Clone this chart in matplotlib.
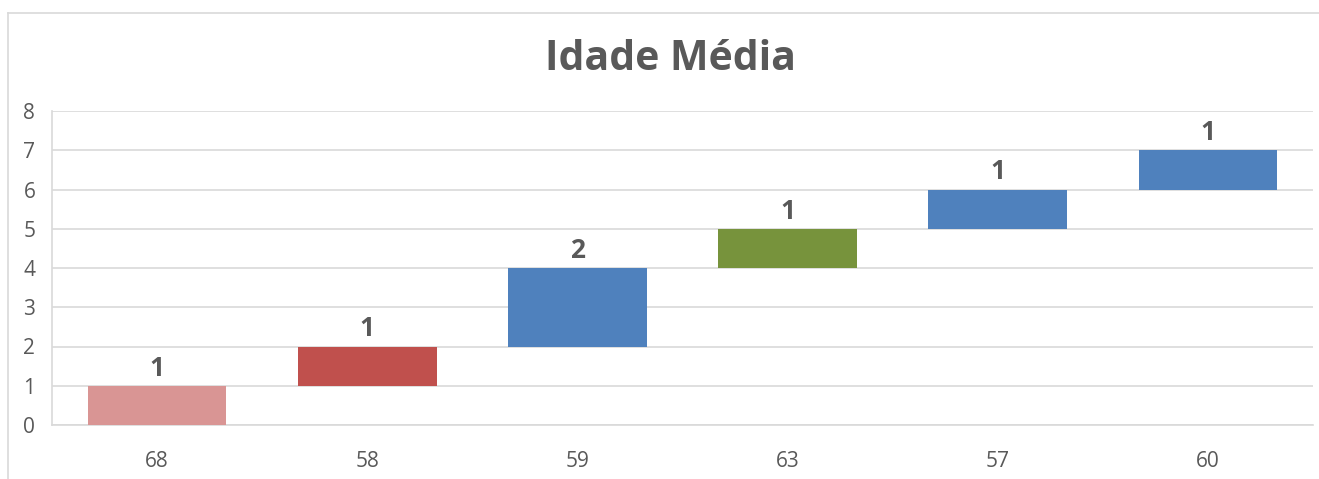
import matplotlib.pyplot as plt
from matplotlib.lines import Line2D

categorias = ["68", "58", "59", "63", "57", "60"]
valores = [1, 1, 2, 1, 1, 1]
cores = ["#D99594", "#C0504D", "#4F81BD", "#77933C", "#4F81BD", "#4F81BD"]

# base de cada barra (cascata)
bases = []
acum = 0
for v in valores:
    bases.append(acum)
    acum += v

plt.rcParams["font.family"] = ["Open Sans", "DejaVu Sans"]
cinza = "#595959"

fig = plt.figure(figsize=(13.19, 4.79), dpi=100)
ax = fig.add_axes([52 / 1319, 1 - 425 / 479, (1313 - 52) / 1319, (425 - 111) / 479])

x = range(len(categorias))
barras = ax.bar(x, valores, bottom=bases, width=0.66, color=cores, zorder=3)
for i, b in enumerate(barras):
    ax.annotate(str(valores[i]), (b.get_x() + b.get_width() / 2, bases[i] + valores[i]),
                xytext=(0, 3), textcoords="offset points", ha="center", va="bottom",
                fontsize=19, fontweight="bold", color=cinza)

ax.set_xlim(-0.5, len(categorias) - 0.5)
ax.set_ylim(0, 8)
ax.set_yticks(range(0, 9))
ax.set_xticks(list(x))
ax.set_xticklabels(categorias)
ax.grid(axis="y", color="#D9D9D9", linewidth=1.2, zorder=0)
for s in ["top", "right"]:
    ax.spines[s].set_visible(False)
ax.spines["left"].set_color("#D9D9D9")
ax.spines["bottom"].set_color("#D9D9D9")
ax.spines["left"].set_linewidth(1.2)
ax.spines["bottom"].set_linewidth(1.2)
ax.tick_params(axis="both", length=0, labelsize=15, labelcolor=cinza)
ax.tick_params(axis="y", pad=12)
ax.tick_params(axis="x", pad=19)

fig.text(0.508, 1 - 60 / 479, "Idade Média", ha="center", va="center",
         fontsize=29.5, fontweight="bold", color=cinza)

# moldura do gráfico (só topo e esquerda visíveis)
fig.add_artist(Line2D([8 / 1319, 8 / 1319], [0, 1 - 13 / 479], transform=fig.transFigure,
                      color="#D9D9D9", linewidth=1.2))
fig.add_artist(Line2D([8 / 1319, 1], [1 - 13 / 479, 1 - 13 / 479], transform=fig.transFigure,
                      color="#D9D9D9", linewidth=1.2))

fig.savefig("out.png", dpi=100)
